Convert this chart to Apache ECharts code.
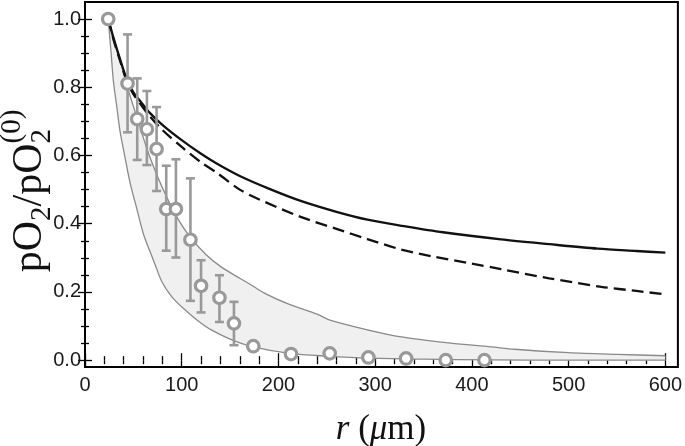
<!DOCTYPE html>
<html><head><meta charset="utf-8">
<script src="https://cdn.jsdelivr.net/npm/echarts@6/dist/echarts.min.js"></script>
<style>html,body{margin:0;padding:0;background:#fff}#c{width:685px;height:446px}</style>
</head><body><div id="c"></div>
<script>
// ---- data ----
const xTicks = [0, 100, 200, 300, 400, 500, 600];
const xMinorTicks = [20,40,60,80,120,140,160,180,220,240,260,280,320,340,360,380,420,440,460,480,520,540,560,580];
const yTicks = [0, 0.2, 0.4, 0.6, 0.8, 1.0];
const yMinorTicks = [0.05,0.1,0.15,0.25,0.3,0.35,0.45,0.5,0.55,0.65,0.7,0.75,0.85,0.9,0.95];

const ptR = [24, 44, 54, 64, 74, 84, 94, 109, 120, 139, 154, 174, 213, 253, 293, 332, 373, 413];
const ptV = [1.0, 0.811, 0.707, 0.677, 0.619, 0.443, 0.443, 0.353, 0.218, 0.183, 0.108, 0.041, 0.018, 0.020, 0.008, 0.005, 0.0, 0.0];

const errR  = [44, 54, 64, 74, 84, 94, 109, 120, 139, 154];
const errLo = [0.668, 0.587, 0.572, 0.496, 0.321, 0.301, 0.174, 0.140, 0.112, 0.044];
const errHi = [0.955, 0.826, 0.789, 0.742, 0.570, 0.589, 0.533, 0.293, 0.249, 0.171];

const solidR = [24, 30, 36, 43, 50, 57, 67, 80, 100, 120, 137, 160, 190, 223, 260, 292, 330, 370, 430, 480, 530, 570, 600];
const solidV = [1.0, 0.94, 0.885, 0.825, 0.785, 0.76, 0.725, 0.69, 0.645, 0.605, 0.575, 0.54, 0.503, 0.467, 0.435, 0.412, 0.393, 0.375, 0.354, 0.34, 0.327, 0.32, 0.315];

const dashR = [24, 30, 36, 43, 50, 57, 67, 80, 100, 120, 137, 160, 178, 223, 260, 292, 326, 358, 400, 430, 480, 534, 570, 600];
const dashV = [1.0, 0.935, 0.88, 0.82, 0.78, 0.752, 0.715, 0.675, 0.625, 0.58, 0.548, 0.5, 0.474, 0.42, 0.385, 0.355, 0.325, 0.305, 0.283, 0.267, 0.24, 0.215, 0.203, 0.193];

const upR = [24, 29, 35, 45, 55, 64, 74, 85, 97, 109, 125, 140, 160, 171, 186, 210, 240, 254, 309, 337, 378, 420, 444, 500, 550, 600];
const upV = [1.0, 0.94, 0.89, 0.79, 0.70, 0.62, 0.545, 0.475, 0.41, 0.36, 0.31, 0.275, 0.24, 0.222, 0.196, 0.165, 0.135, 0.117, 0.078, 0.064, 0.05, 0.039, 0.032, 0.022, 0.017, 0.013];

const loR = [24, 27, 29.3, 33, 36.3, 41, 46.6, 53, 60.4, 67, 72.5, 79.5, 90, 103.6, 117, 131, 150, 172.7, 212, 250, 295, 350, 420, 500, 600];
const loV = [1.0, 0.9, 0.82, 0.74, 0.67, 0.6, 0.52, 0.45, 0.37, 0.32, 0.28, 0.23, 0.185, 0.147, 0.115, 0.088, 0.062, 0.04, 0.02, 0.012, 0.006, 0.003, 0.001, 0.0, 0.0];

// ---- build ----
const zip = (a, b) => a.map((v, i) => [v, b[i]]);
const bandUpper = zip(upR, upV);
const bandLower = zip(loR, loV);
const errData = errR.map((r, i) => [r, errLo[i], errHi[i]]);

const chart = echarts.init(document.getElementById('c'), null, {renderer: 'canvas'});
const lblFont = {fontFamily: 'Liberation Sans', fontSize: 20, color: '#1a1a1a'};
const tickStyle = {color: '#000', width: 1.3};
function xAx(pos, vals, len, labels) {
  return {type: 'value', position: pos, min: 0, max: 613, gridIndex: 0,
    axisLine: {show: false}, splitLine: {show: false},
    axisTick: {show: true, inside: true, length: len, customValues: vals, lineStyle: tickStyle},
    axisLabel: Object.assign({show: labels, customValues: vals, margin: 8}, lblFont)};
}
function yAx(pos, vals, len, labels) {
  return {type: 'value', position: pos, min: -0.02, max: 1.05, gridIndex: 0,
    axisLine: {show: false}, splitLine: {show: false},
    axisTick: {show: true, inside: true, length: len, customValues: vals, lineStyle: tickStyle},
    axisLabel: Object.assign({show: labels, customValues: vals, margin: 4,
      formatter: v => Number(v).toFixed(1)}, lblFont)};
}
const smoothLine = {type: 'line', showSymbol: false, smooth: 0.3};

const option = {
  animation: false,
  backgroundColor: '#fff',
  grid: {left: 85, right: 7, top: 2, bottom: 79, show: true, borderColor: '#000', borderWidth: 2, backgroundColor: 'transparent'},
  xAxis: [xAx('bottom', xTicks, 7, true), xAx('bottom', xMinorTicks, 4, false),
          xAx('top', xTicks, 7, false), xAx('top', xMinorTicks, 4, false)],
  yAxis: [yAx('left', yTicks, 7, true), yAx('left', yMinorTicks, 4, false),
          yAx('right', yTicks, 7, false), yAx('right', yMinorTicks, 4, false)],
  series: [
    {type: 'custom', silent: true, z: 1, data: [[0, 0]],
     renderItem: (params, api) => {
       const pts = bandUpper.map(p => api.coord(p)).concat(bandLower.slice().reverse().map(p => api.coord(p)));
       return {type: 'polygon', shape: {points: pts}, style: {fill: '#f0f0f0'}};
     }},
    Object.assign({}, smoothLine, {data: bandUpper, z: 2, lineStyle: {color: '#8a8a8a', width: 1.3}}),
    Object.assign({}, smoothLine, {data: bandLower, z: 2, lineStyle: {color: '#8a8a8a', width: 1.3}}),
    Object.assign({}, smoothLine, {data: zip(dashR, dashV), z: 3, lineStyle: {color: '#111', width: 2.3, type: [12, 6]}}),
    Object.assign({}, smoothLine, {data: zip(solidR, solidV), z: 3, lineStyle: {color: '#111', width: 2.3}}),
    {type: 'custom', z: 4, data: errData,
     renderItem: (params, api) => {
       const x = api.value(0);
       const a = api.coord([x, api.value(1)]);
       const b = api.coord([x, api.value(2)]);
       const w = 4.5;
       const st = {stroke: '#999', lineWidth: 2.6};
       return {type: 'group', children: [
         {type: 'line', shape: {x1: a[0], y1: a[1], x2: b[0], y2: b[1]}, style: st},
         {type: 'line', shape: {x1: a[0] - w, y1: a[1], x2: a[0] + w, y2: a[1]}, style: st},
         {type: 'line', shape: {x1: b[0] - w, y1: b[1], x2: b[0] + w, y2: b[1]}, style: st}
       ]};
     }},
    {type: 'scatter', data: zip(ptR, ptV), z: 5, symbol: 'circle', symbolSize: 11.5,
     itemStyle: {color: '#fff', borderColor: '#999', borderWidth: 3.2, opacity: 1}}
  ],
  graphic: [
    {type: 'text', x: 381, y: 430, z: 10,
     style: {text: '{i|r}{n| (}{i|μ}{n|m)}', align: 'center', verticalAlign: 'middle',
       rich: {i: {fontFamily: 'Liberation Serif', fontStyle: 'italic', fontSize: 35, fill: '#111'},
              n: {fontFamily: 'Liberation Serif', fontSize: 35, fill: '#111'}}}},
    {type: 'group', x: 30, y: 191, rotation: Math.PI / 2, z: 10, children: (function () {
      const F = 42, S = 29;
      const w1 = 1.222 * F, w2 = 0.5 * S, w3 = 1.5 * F, w5 = 1.166 * S;
      const total = w1 + w2 + w3 + w5;
      const s = -total / 2;
      const base = {fontFamily: 'Liberation Serif', fill: '#111', align: 'left', verticalAlign: 'middle'};
      return [
        {type: 'text', x: s, y: 0, style: Object.assign({text: 'pO', fontSize: F}, base)},
        {type: 'text', x: s + w1, y: 0.3 * F, style: Object.assign({text: '2', fontSize: S}, base)},
        {type: 'text', x: s + w1 + w2, y: 0, style: Object.assign({text: '/pO', fontSize: F}, base)},
        {type: 'text', x: s + w1 + w2 + w3, y: 0.3 * F, style: Object.assign({text: '2', fontSize: S}, base)},
        {type: 'text', x: s + w1 + w2 + w3, y: -0.42 * F, style: Object.assign({text: '(0)', fontSize: S}, base)}
      ];
    })()}
  ]
};
chart.setOption(option);
</script></body></html>
